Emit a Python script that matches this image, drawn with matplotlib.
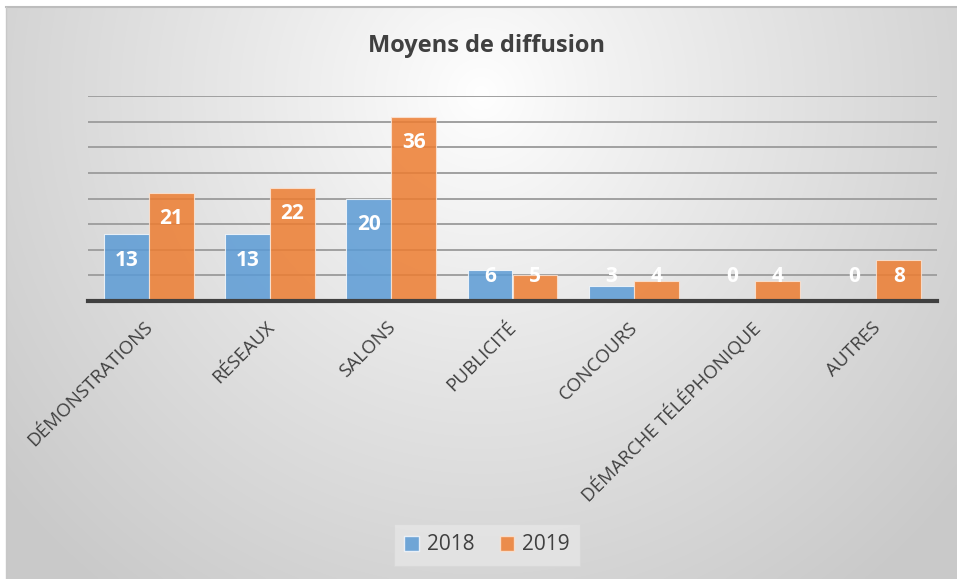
import numpy as np
import matplotlib
matplotlib.use("Agg")
import matplotlib.pyplot as plt
from matplotlib.patches import Patch
from matplotlib.transforms import ScaledTranslation

categories = ["DÉMONSTRATIONS", "RÉSEAUX", "SALONS", "PUBLICITÉ", "CONCOURS",
              "DÉMARCHE TÉLÉPHONIQUE", "AUTRES"]
values_2018 = [13, 13, 20, 6, 3, 0, 0]
values_2019 = [21, 22, 36, 5, 4, 4, 8]
series_names = ["2018", "2019"]
title = "Moyens de diffusion"

plt.rcParams['font.family'] = ['Open Sans', 'DejaVu Sans']
W, H = 957, 579
fig = plt.figure(figsize=(W / 100, H / 100), dpi=100)
fig.patch.set_facecolor('white')

# chart-area background with radial gradient
bx0, by0 = 6 / W, 0
bax = fig.add_axes([bx0, by0, 1 - bx0, 1 - 7 / H], zorder=-10)
ny, nx = 300, 500
yy, xx = np.mgrid[0:1:ny * 1j, 0:1:nx * 1j]
r = np.sqrt(((xx - 0.5) / 0.5) ** 2 + ((yy - 0.15) / 0.85) ** 2)
val = 1 - 0.21 * np.clip(r / 1.3, 0, 1) ** 0.9
img = np.dstack([val, val, val])
bax.imshow(img, aspect='auto', extent=(0, 1, 1, 0), interpolation='bilinear')
bax.set_xlim(0, 1)
bax.set_ylim(1, 0)
bax.axis('off')
fig.add_artist(plt.Line2D([bx0, 1], [1 - 7 / H, 1 - 7 / H], transform=fig.transFigure,
                          color='#bdbdbd', lw=1.5))
fig.add_artist(plt.Line2D([bx0, bx0], [0, 1 - 7 / H], transform=fig.transFigure,
                          color='#c8c8c8', lw=1.0))

ax = fig.add_axes([88 / W, 1 - 301 / H, (937 - 88) / W, (301 - 96) / H])
ax.patch.set_alpha(0)
x = np.arange(len(categories))
bw = 0.37
c18, c19 = '#5b9bd5', '#ed7d31'
ax.bar(x - bw / 2, values_2018, bw, color=c18, alpha=0.85, edgecolor='#f4f8fc',
       linewidth=0.8, zorder=3)
ax.bar(x + bw / 2, values_2019, bw, color=c19, alpha=0.85, edgecolor='#fbe3d3',
       linewidth=0.8, zorder=3)

ax.set_ylim(0, 40)
ax.set_xlim(-0.5, len(categories) - 0.5)
ax.set_yticks(np.arange(5, 41, 5))
ax.yaxis.grid(True, color='#a0a0a0', lw=1.4, zorder=1)
ax.set_axisbelow(True)
for s in ['top', 'right', 'left']:
    ax.spines[s].set_visible(False)
ax.spines['bottom'].set_color('#404040')
ax.spines['bottom'].set_linewidth(3)
ax.spines['bottom'].set_zorder(4)
ax.tick_params(axis='y', left=False, labelleft=False)
ax.tick_params(axis='x', bottom=False, pad=9)
ax.set_xticks(x)
ax.set_xticklabels(categories, rotation=45, ha='right', va='top', rotation_mode='anchor',
                   fontsize=13.5, color='#404040')
offset = ScaledTranslation(-5 / 100, 0, fig.dpi_scale_trans)
for lbl in ax.get_xticklabels():
    lbl.set_transform(lbl.get_transform() + offset)

for xs, vals in [(x - bw / 2, values_2018), (x + bw / 2, values_2019)]:
    for xi, v in zip(xs, vals):
        ax.text(xi, max(v - 5.0, 4.7), str(v), ha='center', va='center', color='white',
                fontsize=15, fontweight='bold', zorder=5)

fig.text(487 / W, 1 - 46 / H, title, ha='center', va='center', fontsize=17,
         fontweight='bold', color='#404040')

handles = [Patch(facecolor=c18, alpha=0.85, edgecolor='#f4f8fc'),
           Patch(facecolor=c19, alpha=0.85, edgecolor='#fbe3d3')]
leg = fig.legend(handles, series_names, loc='center', bbox_to_anchor=(487 / W, 1 - 545 / H),
                 ncol=2, frameon=True, fancybox=False, fontsize=15, handlelength=0.7,
                 handleheight=0.7, handletextpad=0.4, columnspacing=1.2, borderpad=0.5,
                 labelcolor='#404040')
leg.get_frame().set_facecolor('#e6e6e6')
leg.get_frame().set_edgecolor('#d8d8d8')
leg.get_frame().set_linewidth(0.8)

fig.savefig('out.png', dpi=100)
